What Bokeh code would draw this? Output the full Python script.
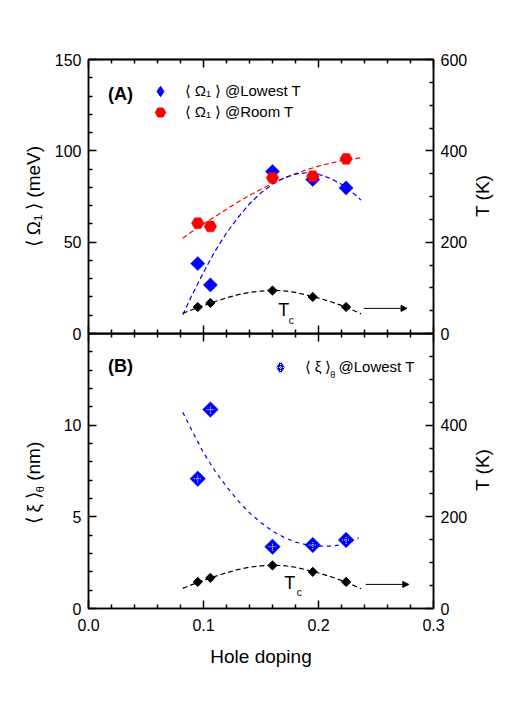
import math
from bokeh.plotting import figure
from bokeh.models import (Range1d, LinearAxis, FixedTicker, Legend, LegendItem,
                          Label, Arrow, NormalHead, PrintfTickFormatter, Div)
from bokeh.layouts import column, row
from bokeh.embed import file_html
from bokeh.resources import INLINE

# ---------------- data ----------------
doping = [0.095, 0.106, 0.160, 0.195, 0.224]
omega_lowT = [38.3, 26.6, 88.7, 84.3, 79.7]
omega_roomT = [60.4, 58.6, 85.2, 86.1, 95.6]
tc = [58, 67, 94, 80, 58]
xi_lowT = [7.08, 10.85, 3.37, 3.46, 3.74]

fit_doping = [0.082, 0.09, 0.10, 0.11, 0.12, 0.13, 0.14, 0.15, 0.16,
              0.17, 0.18, 0.19, 0.20, 0.21, 0.22, 0.23, 0.237]
fit_omega_lowT = [10.2, 21.0, 33.5, 45.0, 55.0, 63.5, 71.0, 77.0, 81.8,
                  85.2, 87.3, 88.0, 87.2, 85.0, 81.7, 77.0, 73.0]
fit_omega_roomT = [52.2, 55.8, 60.0, 64.0, 68.0, 72.0, 75.6, 79.0, 82.2,
                   85.0, 87.5, 89.7, 91.6, 93.2, 94.6, 95.6, 96.2]
fit_tc = [44, 52, 61, 70, 78, 85, 90, 93, 94.5,
          93.5, 90, 84, 77.5, 70, 61.5, 51, 43]

xi_fit_doping = [0.082, 0.09, 0.10, 0.11, 0.12, 0.13, 0.14, 0.15, 0.16,
                 0.17, 0.18, 0.19, 0.20, 0.21, 0.22, 0.23, 0.235]
fit_xi = [10.7, 9.7, 8.5, 7.5, 6.65, 5.88, 5.22, 4.68, 4.22,
          3.88, 3.62, 3.47, 3.40, 3.40, 3.48, 3.70, 3.86]

arrow_top_x = [0.2394, 0.277]
arrow_top_T = 55
arrow_bot_x = [0.241, 0.2785]
arrow_bot_T = 52.6

x_ticks = [0.0, 0.1, 0.2, 0.3]
x_minor = [0.02, 0.04, 0.06, 0.08, 0.12, 0.14, 0.16, 0.18, 0.22, 0.24, 0.26, 0.28]
omega_ticks = [0, 50, 100, 150]
omega_minor = [10, 20, 30, 40, 60, 70, 80, 90, 110, 120, 130, 140]
T_ticks_top = [0, 200, 400, 600]
T_ticks_bot = [0, 200, 400]
T_minor = [50, 100, 150, 250, 300, 350, 450, 500, 550]
xi_ticks = [0, 5, 10]
xi_minor = [1, 2, 3, 4, 6, 7, 8, 9, 11, 12, 13, 14]

FONT = "Liberation Sans"
BLUE = "#0000ff"
RED = "#ff0000"
NAN = float("nan")
SP = "\u2005"  # narrow space around the angle brackets

OVERLAP = 12
RIGHT_BORDER = 38
RIGHT_TITLE_W = 25


def style_axis(ax, ticks, minor, fmt=None):
    ax.ticker = FixedTicker(ticks=ticks, minor_ticks=minor)
    ax.major_tick_in = 8
    ax.major_tick_out = 0
    ax.minor_tick_in = 4
    ax.minor_tick_out = 0
    ax.axis_line_width = 1.5
    ax.major_tick_line_width = 1.5
    ax.minor_tick_line_width = 1.5
    ax.axis_line_color = "black"
    ax.major_tick_line_color = "black"
    ax.minor_tick_line_color = "black"
    if fmt is not None:
        ax.formatter = PrintfTickFormatter(format=fmt)
    ax.major_label_text_font = FONT
    ax.major_label_text_font_size = "16px"
    ax.major_label_text_color = "black"
    ax.major_label_standoff = 7
    ax.axis_label_text_font = FONT
    ax.axis_label_text_font_size = "19px"
    ax.axis_label_text_font_style = "normal"
    ax.axis_label_text_color = "black"


def tick_only_axes(p, side):
    # ticks without any labels: minor ticks of two stacked zero-size axes
    for positions, length in ((x_minor, 4), (x_ticks, 8)):
        ax = LinearAxis(ticker=FixedTicker(ticks=[], minor_ticks=positions),
                        minor_tick_in=length, minor_tick_out=0,
                        major_tick_in=0, major_tick_out=0,
                        minor_tick_line_width=1.5, axis_line_width=1.5,
                        major_label_standoff=0)
        p.add_layout(ax, side)


def base_fig(y_max, frame_h, left, top, bottom, x_axis_location):
    p = figure(frame_width=345, frame_height=frame_h,
               x_range=Range1d(0, 0.3), y_range=Range1d(0, y_max),
               output_backend="svg", toolbar_location=None,
               x_axis_location=x_axis_location,
               min_border_left=left, min_border_right=RIGHT_BORDER,
               min_border_top=top, min_border_bottom=bottom)
    p.extra_y_ranges = {"T": Range1d(0, 600)}
    p.add_layout(LinearAxis(y_range_name="T"), "right")
    p.xgrid.visible = False
    p.ygrid.visible = False
    p.outline_line_color = "black"
    p.outline_line_width = 1.5
    return p


def add_text(p, x, y, text, size, y_range_name="default", bold=False,
             align="center"):
    p.add_layout(Label(x=x, y=y, text=text, y_range_name=y_range_name,
                       text_font=FONT, text_font_size=size,
                       text_font_style="bold" if bold else "normal",
                       text_align=align, text_baseline="middle",
                       text_color="black"))


def make_legend(items, location, glyph, standoff):
    return Legend(items=items, location=location, glyph_width=glyph,
                  glyph_height=glyph, spacing=0, padding=0, margin=0,
                  label_standoff=standoff, label_height=18,
                  label_text_font=FONT, label_text_font_size="15px",
                  label_text_color="black",
                  border_line_color=None, background_fill_alpha=0)


def vertical_title(html_text, width, height, cx, cy):
    # rotated axis title (reads bottom to top), centred at (cx, cy)
    html = (
        f'<div style="position:relative;width:{width}px;height:{height}px;">'
        f'<div style="position:absolute;left:{cx}px;top:{cy}px;'
        'transform:translate(-50%,-50%) rotate(-90deg);white-space:nowrap;'
        "font-family:'Liberation Sans';font-size:19px;line-height:1;color:#000;\">"
        f'{html_text}</div></div>'
    )
    return Div(text=html, width=width, height=height, margin=(0, 0, 0, 0))


# ---------------- panel A ----------------
p1 = base_fig(150, 274, 88, 59, OVERLAP, None)
p1.background_fill_color = "white"
p1.border_fill_color = "white"
tick_only_axes(p1, "below")
tick_only_axes(p1, "above")
style_axis(p1.left[0], omega_ticks, omega_minor, fmt="%d")
style_axis(p1.right[0], T_ticks_top, T_minor, fmt="%d")
p1.left[0].axis_label = f"⟨{SP}Ω₁{SP}⟩ (meV)"
p1.left[0].axis_label_standoff = 8

p1.line(fit_doping, fit_omega_roomT, line_color=RED, line_dash="5 3", line_width=1.2)
p1.line(fit_doping, fit_omega_lowT, line_color=BLUE, line_dash="5 3", line_width=1.2)
p1.line(fit_doping, fit_tc, line_color="black", line_dash="5 3", line_width=1.2,
        y_range_name="T")
p1.scatter(doping, omega_lowT, marker="square", angle=math.pi / 4, size=10,
           fill_color=BLUE, line_color=BLUE, line_width=0.5)
p1.scatter(doping, omega_roomT, marker="hex", size=12.5,
           fill_color=RED, line_color=RED, line_width=0.5)
p1.scatter(doping, tc, marker="square", angle=math.pi / 4, size=6.5,
           fill_color="black", line_color="black", y_range_name="T")

leg_blue = p1.scatter([NAN], [NAN], marker="diamond", fill_color=BLUE, line_color=BLUE)
leg_red = p1.scatter([NAN], [NAN], marker="hex", fill_color=RED, line_color=RED)
p1.add_layout(make_legend([LegendItem(label=f"⟨{SP}Ω₁{SP}⟩ @Lowest T",
                                      renderers=[leg_blue])], (59, 229), 26, 12))
p1.add_layout(make_legend([LegendItem(label=f"⟨{SP}Ω₁{SP}⟩ @Room T",
                                      renderers=[leg_red])], (59, 208), 26, 12))

add_text(p1, 0.0278, 131.2, "(A)", "18px", bold=True)
add_text(p1, 0.1698, 50.4, "T", "18px", y_range_name="T")
add_text(p1, 0.1763, 28.5, "c", "10px", y_range_name="T")
p1.add_layout(Arrow(x_start=arrow_top_x[0], y_start=arrow_top_T,
                    x_end=arrow_top_x[1], y_end=arrow_top_T, y_range_name="T",
                    line_color="black", line_width=1,
                    end=NormalHead(size=6, fill_color="black", line_color="black")))

# ---------------- panel B ----------------
p2 = base_fig(15, 275, 44, 0, 70, "below")
p2.background_fill_alpha = 0
p2.border_fill_alpha = 0
tick_only_axes(p2, "above")
style_axis(p2.below[0], x_ticks, x_minor, fmt="%.1f")
style_axis(p2.left[0], xi_ticks, xi_minor, fmt="%d")
style_axis(p2.right[0], T_ticks_bot, T_minor, fmt="%d")
p2.below[0].major_label_standoff = 10
p2.below[0].axis_label = "Hole doping"
p2.below[0].axis_label_standoff = 12

p2.line(xi_fit_doping, fit_xi, line_color=BLUE, line_dash="4 4", line_width=1.2)
p2.line(fit_doping, fit_tc, line_color="black", line_dash="5 3", line_width=1.2,
        y_range_name="T")
p2.scatter(doping, xi_lowT, marker="square", angle=math.pi / 4, size=11,
           fill_color=BLUE, line_color=BLUE, line_width=0.5)
p2.scatter(doping, xi_lowT, marker="cross", size=8, line_color="white",
           line_width=1, line_dash="1 1")
p2.scatter(doping, tc, marker="square", angle=math.pi / 4, size=6.5,
           fill_color="black", line_color="black", y_range_name="T")

leg_xi = p2.scatter([NAN], [NAN], marker="diamond", fill_color=BLUE, line_color=BLUE)
leg_xi_c = p2.scatter([NAN], [NAN], marker="cross", line_color="white", line_width=1,
                      line_dash="1 1")
p2.add_layout(make_legend([LegendItem(label=f"⟨{SP}ξ{SP}⟩",
                                      renderers=[leg_xi, leg_xi_c])],
                          (178, 227), 28, 11))
add_text(p2, 0.2125, 12.72, "θ", "9px")
add_text(p2, 0.2174, 13.22, "@Lowest T", "15px", align="left")

add_text(p2, 0.0278, 13.22, "(B)", "18px", bold=True)
add_text(p2, 0.175, 54.7, "T", "18px", y_range_name="T")
add_text(p2, 0.1832, 36, "c", "10px", y_range_name="T")
p2.add_layout(Arrow(x_start=arrow_bot_x[0], y_start=arrow_bot_T,
                    x_end=arrow_bot_x[1], y_end=arrow_bot_T, y_range_name="T",
                    line_color="black", line_width=1,
                    end=NormalHead(size=6, fill_color="black", line_color="black")))

# ---------------- axis titles as HTML (subscripts / reading direction) -------
left_title_b = vertical_title(
    f'⟨{SP}ξ{SP}⟩<sub style="font-size:11px;">θ</sub> (nm)', 44, 345, 35, 150)
right_title_a = vertical_title("T (K)", RIGHT_TITLE_W, 345, 11, 196)
right_title_b = vertical_title("T (K)", RIGHT_TITLE_W, 345, 11, 137)

top_row = row(p1, right_title_a, spacing=0)
bottom_row = row(left_title_b, p2, right_title_b, spacing=0)
bottom_row.margin = (-OVERLAP, 0, 0, 0)
layout = column(top_row, bottom_row, spacing=0)
open("out.html", "w").write(file_html(layout, INLINE))
